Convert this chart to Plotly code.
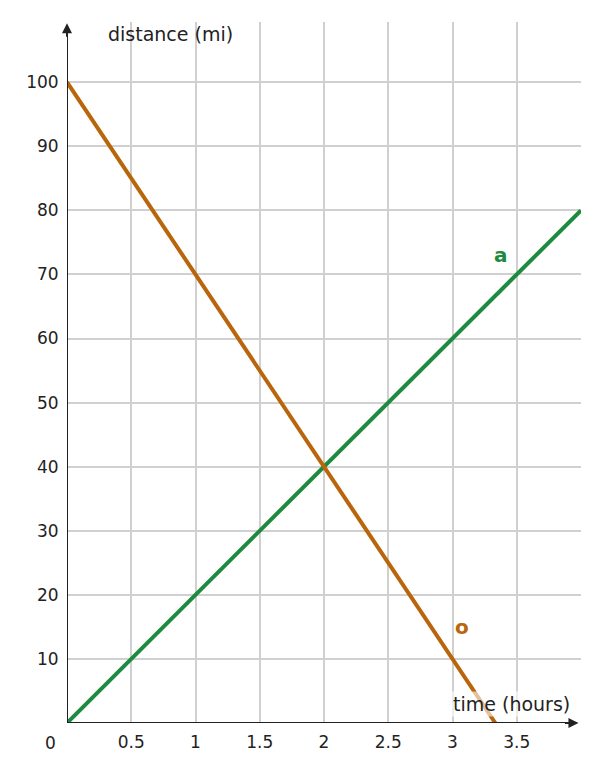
import plotly.graph_objects as go

time_a = [0, 4]
dist_a = [0, 80]
time_o = [0, 10 / 3]
dist_o = [100, 0]
x_ticks = [0.5, 1, 1.5, 2, 2.5, 3, 3.5]
x_labels = ["0.5", "1", "1.5", "2", "2.5", "3", "3.5"]
y_ticks = [10, 20, 30, 40, 50, 60, 70, 80, 90, 100]

green = "#1d8a3f"
orange = "#b9650b"
ink = "#222222"

fig = go.Figure()
fig.add_trace(go.Scatter(x=time_a, y=dist_a, mode="lines",
                         line=dict(color=green, width=4), showlegend=False))
fig.add_trace(go.Scatter(x=time_o, y=dist_o, mode="lines",
                         line=dict(color=orange, width=4), showlegend=False))

# page has an 8px body offset, margins compensate
fig.update_layout(
    width=598, height=772,
    margin=dict(l=59, r=25, t=14, b=57),
    plot_bgcolor="white", paper_bgcolor="white",
    font=dict(family="DejaVu Sans", size=17, color=ink),
    xaxis=dict(range=[0, 4], tickvals=x_ticks, ticktext=x_labels,
               showgrid=True, gridcolor="#d0d0d0", gridwidth=1.5,
               zeroline=False, showline=False, ticks="outside", ticklen=4,
               tickcolor="white"),
    yaxis=dict(range=[0, 109.4], tickvals=y_ticks,
               showgrid=True, gridcolor="#d0d0d0", gridwidth=1.5,
               zeroline=False, showline=False, ticks="outside", ticklen=4,
               tickcolor="white"),
)

# axes with arrowheads
fig.add_shape(type="line", xref="x", yref="y", x0=0, y0=0, x1=3.97, y1=0,
              line=dict(color=ink, width=2))
fig.add_shape(type="line", xref="x", yref="y", x0=0, y0=0, x1=0, y1=108.5,
              line=dict(color=ink, width=2))
fig.add_annotation(x=3.98, y=0, xref="x", yref="y", ax=-15, ay=0,
                   showarrow=True, arrowhead=2, arrowsize=1, arrowwidth=2,
                   arrowcolor=ink, text="")
fig.add_annotation(x=0, y=109.2, xref="x", yref="y", ax=0, ay=15,
                   showarrow=True, arrowhead=2, arrowsize=1, arrowwidth=2,
                   arrowcolor=ink, text="")

fig.add_annotation(x=0, y=0, xref="x", yref="y", xshift=-17, yshift=-20,
                   text="0", showarrow=False, font=dict(size=17, color=ink))
fig.add_annotation(x=0.3, y=107.6, xref="x", yref="y", xanchor="left",
                   text="distance (mi)", showarrow=False,
                   font=dict(size=19, color=ink))
fig.add_annotation(x=3.93, y=3, xref="x", yref="y", xanchor="right",
                   text="time (hours)", showarrow=False,
                   font=dict(size=19, color=ink), bgcolor="rgba(255,255,255,0.6)")
fig.add_annotation(x=3.38, y=73, xref="x", yref="y", text="<b>a</b>",
                   showarrow=False, font=dict(size=20, color=green))
fig.add_annotation(x=3.07, y=15, xref="x", yref="y", text="<b>o</b>",
                   showarrow=False, font=dict(size=20, color=orange))

fig.write_html("out.html")
